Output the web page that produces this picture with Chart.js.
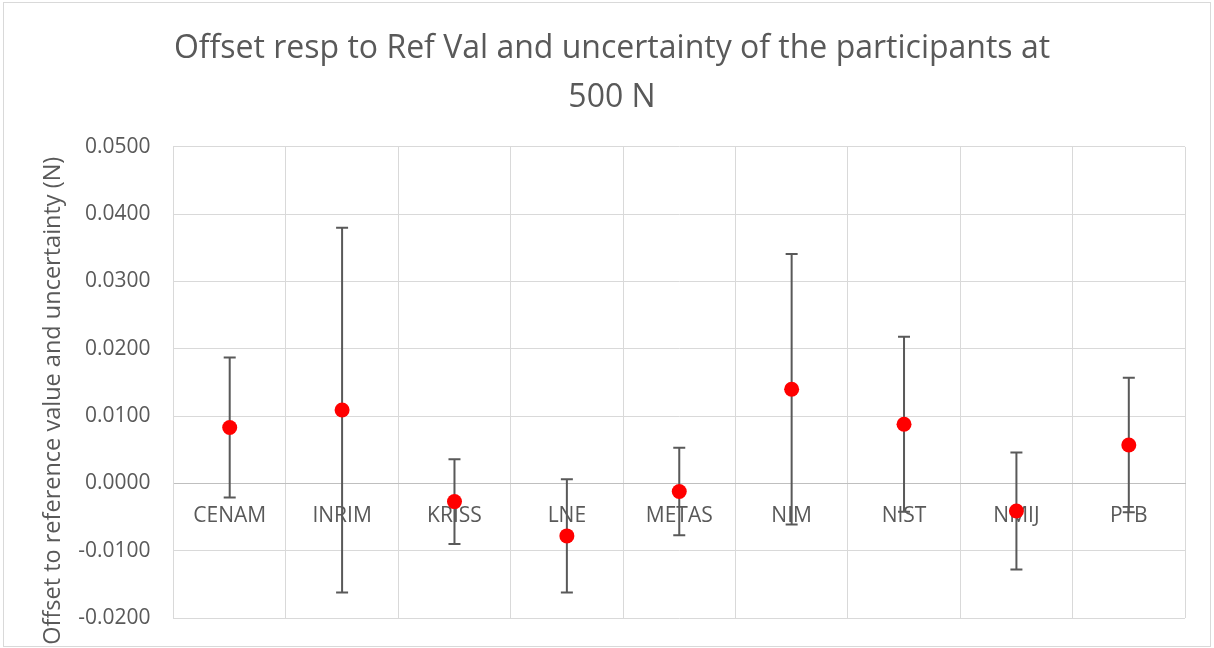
<!DOCTYPE html>
<html>
<head>
<meta charset="utf-8">
<script src="https://cdn.jsdelivr.net/npm/chart.js@4/dist/chart.umd.min.js"></script>
<style>
  html, body { margin: 0; padding: 0; background: #fff; }
  #wrap { width: 1214px; height: 648px; position: relative; }
</style>
</head>
<body>
<div id="wrap"><canvas id="chart" width="1214" height="648"></canvas></div>
<script>
const categories = ['CENAM', 'INRIM', 'KRISS', 'LNE', 'METAS', 'NIM', 'NIST', 'NMIJ', 'PTB'];
const offsets = [0.0083, 0.0109, -0.0027, -0.0078, -0.0012, 0.0140, 0.0088, -0.0041, 0.0057];
const uncertainties = [0.0104, 0.0271, 0.0063, 0.0084, 0.0065, 0.0201, 0.0130, 0.0087, 0.0100];
const titleLines = ['Offset resp to Ref Val and uncertainty of the participants at', '500 N'];
const yTitle = 'Offset to reference value and uncertainty (N)';

const grey = '#595959';
const font = "'Open Sans', sans-serif";

const errorBars = {//draw the uncertainty bars under the points
  id: 'errorBars',
  beforeDatasetsDraw(chart) {
    const ctx = chart.ctx;
    const y = chart.scales.y;
    const meta = chart.getDatasetMeta(0);
    ctx.save();
    ctx.strokeStyle = grey;
    ctx.lineWidth = 2;
    meta.data.forEach((pt, i) => {
      const top = y.getPixelForValue(offsets[i] + uncertainties[i]);
      const bot = y.getPixelForValue(offsets[i] - uncertainties[i]);
      ctx.beginPath();
      ctx.moveTo(pt.x, top); ctx.lineTo(pt.x, bot);
      ctx.moveTo(pt.x - 6, top); ctx.lineTo(pt.x + 6, top);
      ctx.moveTo(pt.x - 6, bot); ctx.lineTo(pt.x + 6, bot);
      ctx.stroke();
    });
    ctx.restore();
  }
};

const frame = {//light border round the whole chart
  id: 'frame',
  afterDraw(chart) {
    const ctx = chart.ctx;
    ctx.save();
    ctx.strokeStyle = '#d9d9d9';
    ctx.lineWidth = 1;
    ctx.strokeRect(3.5, 2.5, 1207, 644);
    ctx.restore();
  }
};

new Chart(document.getElementById('chart'), {
  type: 'line',
  data: {
    labels: categories,
    datasets: [{
      data: offsets,
      showLine: false,
      pointRadius: 7.5,
      pointHoverRadius: 7.5,
      pointBackgroundColor: '#ff0000',
      pointBorderWidth: 0,
      borderColor: '#ff0000'
    }]
  },
  options: {
    responsive: false,
    animation: false,
    layout: { padding: { left: 39, right: 29, bottom: 30, top: 0 } },
    plugins: {
      legend: { display: false },
      tooltip: { enabled: false },
      title: {
        display: true,
        text: titleLines,
        color: grey,
        font: { family: font, size: 32, weight: 'normal', lineHeight: 1.53 },
        padding: { top: 24, bottom: 25 }
      }
    },
    scales: {
      x: {
        position: { y: 0 },
        offset: true,
        grid: { color: '#d9d9d9', offset: true, drawTicks: false },
        border: { color: '#bfbfbf' },
        ticks: { color: grey, font: { family: font, size: 21 }, padding: 20, maxRotation: 0 },
        afterFit: s => { s.height = 0; s.paddingBottom = 0; }
      },
      y: {
        min: -0.02,
        max: 0.05,
        ticks: {
          stepSize: 0.01,
          color: grey,
          font: { family: font, size: 21 },
          padding: 23,
          callback: v => v.toFixed(4)
        },
        grid: {
          drawTicks: false,
          color: c => (Math.abs(c.tick.value) < 1e-9 ? '#bfbfbf' : '#d9d9d9')
        },
        border: { color: '#d9d9d9' },
        title: {
          display: true,
          text: yTitle + '      ',
          color: grey,
          font: { family: font, size: 23.5 },
          padding: { top: 0, bottom: -12 }
        },
        afterFit: s => { s.paddingBottom = 12; s.paddingTop = 12; }
      }
    }
  },
  plugins: [errorBars, frame]
});
</script>
</body>
</html>
